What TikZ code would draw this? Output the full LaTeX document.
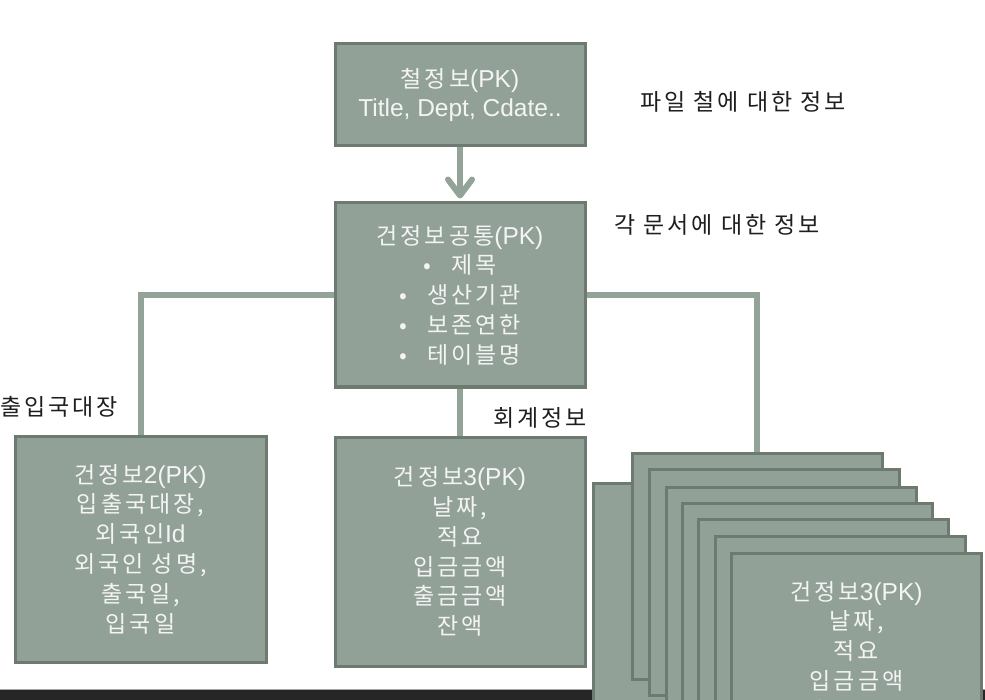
\documentclass[tikz,border=0pt]{standalone}
\usepackage{fontspec}
\setmainfont{Noto Sans CJK KR}[LetterSpace=13]
\newfontfamily\lat{Liberation Sans}
\usetikzlibrary{arrows.meta}
\pgfdeclarelayer{bg}
\pgfsetlayers{bg,main}
\definecolor{boxfill}{HTML}{92A197}
\definecolor{boxedge}{HTML}{6C7A70}
\definecolor{conn}{HTML}{93A398}
\definecolor{band}{HTML}{262626}
\definecolor{boxtext}{HTML}{F4F4F4}
\definecolor{labeltext}{HTML}{1E1E1E}
\tikzset{
  tbox/.style={draw=boxedge, fill=boxfill, line width=3pt, text=boxtext,
    minimum width=250pt, align=center, inner sep=0pt,
    font=\fontsize{23}{29.8}\selectfont},
  conline/.style={draw=conn, line width=6pt},
  lbl/.style={text=labeltext, inner sep=0pt, font=\fontsize{23}{28}\selectfont}
}
\newcommand{\bul}[1]{\makebox[28pt][l]{•}#1}
\newcommand{\la}[1]{{\lat\fontsize{24.5}{29.8}\selectfont #1}}
\begin{document}
\begin{tikzpicture}[x=1pt,y=-1pt]
\useasboundingbox (0,0) rectangle (985,700);
\clip (0,0) rectangle (985,700);
\begin{pgfonlayer}{bg}
\fill[white] (0,0) rectangle (985,700);
\fill[band] (0,689) rectangle (985,700);
\draw[color=gray!70, line width=1pt] (0,689.5) -- (985,689.5);
\end{pgfonlayer}

% main nodes
\node[tbox, minimum height=102pt] (top) at (460,95) {철정보\la{(PK)}\\\la{Title, Dept, Cdate..}};
\node[tbox, minimum height=184pt] (com) at (460,295) {건정보공통\la{(PK)}\\\bul{제목}\\\bul{생산기관}\\\bul{보존연한}\\\bul{테이블명}};
\node[tbox, minimum width=251pt, minimum height=226pt] (left) at (140.5,549) {건정보\la{2(PK)}\\입출국대장,\\외국인\la{Id}\\외국인 성명,\\출국일,\\입국일};
\node[tbox, minimum height=229pt] (mid) at (460,551.5) {건정보\la{3(PK)}\\날짜,\\적요\\입금금액\\출금금액\\잔액};

% stacked boxes
\node[tbox, minimum height=226pt] (sa) at (718,596) {};
\node[tbox, minimum height=226pt] (sb) at (757,566) {};
\node[tbox, minimum height=226pt] (sc) at (774,582) {};
\node[tbox, minimum height=226pt] (sd) at (791,600) {};
\node[tbox, minimum height=226pt] (se) at (807,616) {};
\node[tbox, minimum height=226pt] (sf) at (823,632) {};
\node[tbox, minimum height=226pt] (sg) at (840,649) {};
\node[tbox, minimum height=226pt] (sh) at (856.5,666) {건정보\la{3(PK)}\\날짜,\\적요\\입금금액\\출금금액\\잔액};

% connectors (behind the boxes)
\begin{pgfonlayer}{bg}
\draw[conline, -{Straight Barb[length=16pt,width=24pt,round]}, shorten >=3pt] (top.south) -- (com.north);
\draw[conline] (com.west) -| (left.north);
\draw[conline] (com.south) -- (mid.north);
\draw[conline] (com.east) -| (sb.north);
\end{pgfonlayer}

% labels
\node[lbl] (l1) at (743,102) {파일 철에 대한 정보};
\node[lbl] (l2) at (717,225) {각 문서에 대한 정보};
\node[lbl, anchor=east] (l3) at (118,407) {출입국대장};
\node[lbl] (l4) at (540,418) {회계정보};
\end{tikzpicture}
\end{document}
